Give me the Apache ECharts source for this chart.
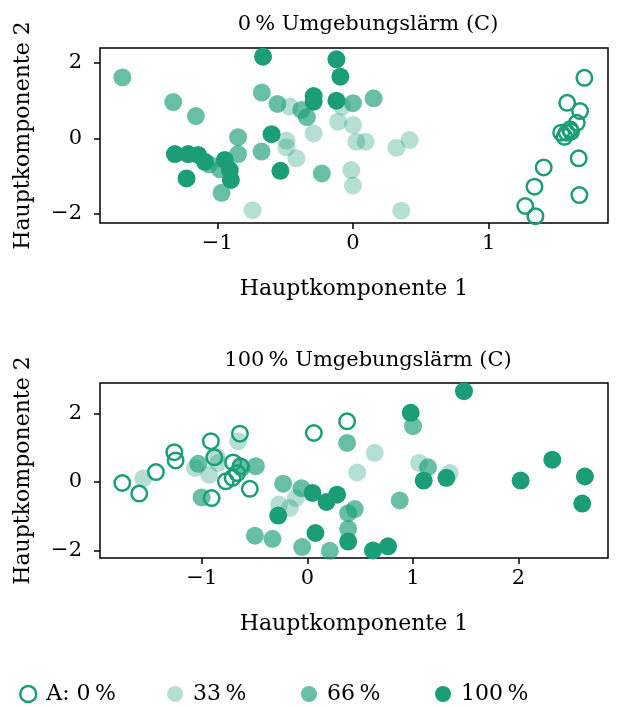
<!DOCTYPE html>
<html lang="de">
<head>
    <meta charset="UTF-8">
    <title>Hauptkomponenten</title>
    <script src="https://cdn.jsdelivr.net/npm/echarts@6/dist/echarts.min.js"></script>
    <style>
        html, body { margin: 0; padding: 0; background: #fff; }
        #main { width: 636px; height: 708px; }
    </style>
</head>
<body>
<div id="main"></div>
<script>
    // Namen der Gruppen
    var names = ['A: 0\u2009%', '33\u2009%', '66\u2009%', '100\u2009%'];
    var titles = ['0\u2009% Umgebungslärm (C)', '100\u2009% Umgebungslärm (C)'];
    var xTicks = [[-1, 0, 1], [-1, 0, 1, 2]];
    var yTicks = [-2, 0, 2];

    // 0 % Umgebungslärm
    var top0 = [[1.706,1.60],[1.579,0.94],[1.674,0.72],[1.65,0.41],[1.60,0.24],[1.576,0.15],[1.535,0.15],[1.559,0.04],[1.608,0.175],[1.664,-0.53],[1.406,-0.77],[1.338,-1.28],[1.669,-1.50],[1.27,-1.79],[1.345,-2.06]];
    var top33 = [[-0.741,-1.90],[-0.466,0.84],[-0.49,-0.06],[-0.49,-0.24],[-0.417,-0.53],[-0.29,0.13],[-0.11,0.44],[-0.08,0.84],[0.0,0.35],[0.025,-0.09],[0.093,-0.09],[-0.012,-0.84],[0.0,-1.25],[0.32,-0.25],[0.417,-0.045],[0.356,-1.915]];
    var top66 = [[-1.70,1.61],[-1.325,0.96],[-1.158,0.59],[-0.672,1.21],[-0.557,0.91],[-0.38,0.75],[-0.34,0.56],[0.0,0.93],[0.152,1.06],[-0.847,0.03],[-0.847,-0.415],[-0.674,-0.35],[-0.969,-1.44],[-0.23,-0.93],[-1.06,-0.69],[-0.98,-0.82]];
    var top100 = [[-0.663,2.16],[-0.122,2.09],[-0.093,1.63],[-0.29,1.12],[-0.29,0.97],[-0.122,0.995],[-0.60,0.11],[-0.535,-0.86],[-1.313,-0.415],[-1.215,-0.415],[-1.141,-0.44],[-1.092,-0.62],[-1.227,-1.06],[-0.945,-0.57],[-0.908,-0.84],[-0.9,-1.10]];

    // 100 % Umgebungslärm
    var bot0 = [[-1.754,-0.03],[-1.593,-0.34],[-1.435,0.29],[-1.261,0.87],[-1.248,0.63],[-0.914,1.19],[-0.882,0.72],[-0.639,1.41],[-0.703,0.57],[-0.633,0.46],[-0.665,0.26],[-0.708,0.12],[-0.772,0.02],[-0.545,-0.20],[-0.907,-0.47],[0.062,1.43],[0.377,1.77]];
    var bot33 = [[-1.555,0.10],[-0.655,1.19],[-0.86,0.74],[-1.065,0.41],[-0.93,0.21],[-0.845,0.555],[-0.109,-0.47],[-0.267,-0.66],[-0.166,-0.76],[0.472,0.28],[0.639,0.85],[1.059,0.555],[1.35,0.26]];
    var bot66 = [[-1.034,0.53],[-0.623,0.41],[-0.488,0.46],[-1.002,-0.45],[-0.229,-0.05],[-0.055,-0.18],[0.45,-0.79],[0.387,-0.91],[0.387,-1.37],[-0.497,-1.57],[-0.33,-1.66],[-0.049,-1.90],[0.213,-2.01],[0.377,1.14],[1.002,1.63],[1.144,0.43],[0.876,-0.54]];
    var bot100 = [[-0.276,-0.98],[0.049,-0.32],[0.182,-0.585],[0.282,-0.37],[0.077,-1.49],[0.387,-1.74],[0.623,-2.0],[0.765,-1.88],[1.485,2.65],[0.98,2.02],[1.103,0.04],[1.318,0.12],[2.022,0.04],[2.322,0.65],[2.631,0.16],[2.606,-0.63]];

    var font = 'DejaVu Serif';
    var green = '#1b9e77';
    var fills = ['rgba(0,0,0,0)', 'rgba(27,158,119,0.33)', 'rgba(27,158,119,0.66)', 'rgba(27,158,119,1)'];

    function minus(v) {
        return String(v).replace('-', '\u2212');
    }

    function xAxis(idx, min, max) {
        return {
            type: 'value', gridIndex: idx, min: min, max: max, position: 'bottom',
            splitLine: { show: false },
            axisLine: { show: false, onZero: false },
            axisTick: { show: true, length: 6, customValues: xTicks[idx], lineStyle: { color: '#000', width: 1.5 } },
            axisLabel: { customValues: xTicks[idx], formatter: minus, margin: 10, color: '#000', fontFamily: font, fontSize: 21 },
            name: 'Hauptkomponente 1', nameLocation: 'middle', nameGap: 55,
            nameTextStyle: { color: '#000', fontFamily: font, fontSize: 22 }
        };
    }

    function yAxis(idx, min, max) {
        return {
            type: 'value', gridIndex: idx, min: min, max: max, position: 'left',
            splitLine: { show: false },
            axisLine: { show: false, onZero: false },
            axisTick: { show: true, length: 6, customValues: yTicks, lineStyle: { color: '#000', width: 1.5 } },
            axisLabel: { customValues: yTicks, formatter: minus, margin: 18, color: '#000', fontFamily: font, fontSize: 21 },
            name: 'Hauptkomponente 2', nameLocation: 'middle', nameGap: 66,
            nameTextStyle: { color: '#000', fontFamily: font, fontSize: 22 }
        };
    }

    function scatter(i, data, idx) {
        var hollow = i === 0;
        return {
            name: names[i], type: 'scatter', xAxisIndex: idx, yAxisIndex: idx,
            data: data,
            symbol: 'circle',
            symbolSize: hollow ? 15.5 : 18,
            z: hollow ? 5 : 2 + i * 0.1,
            itemStyle: hollow
                ? { color: fills[0], borderColor: green, borderWidth: 2.5, opacity: 1 }
                : { color: fills[i], opacity: 1 },
            emphasis: { disabled: true },
            silent: true
        };
    }

    var legendLeft = [14, 162, 296, 430];
    var legends = [];
    for (var i = 0; i < 4; i++) {
        legends.push({
            data: [i === 0
                ? { name: names[0], itemStyle: { color: '#fff', borderColor: green, borderWidth: 2.5 } }
                : { name: names[i], itemStyle: { color: fills[i], borderWidth: 0 } }],
            left: legendLeft[i], top: 678,
            icon: 'circle', itemWidth: 16, itemHeight: 16,
            selectedMode: false,
            textStyle: { color: '#000', fontFamily: font, fontSize: 22, padding: [0, 0, 0, 5] }
        });
    }

    var chart = echarts.init(document.getElementById('main'));
    chart.setOption({
        animation: false,
        backgroundColor: '#fff',
        title: [
            { text: titles[0], left: 363, top: 9, textAlign: 'center', textStyle: { color: '#000', fontFamily: font, fontSize: 21, fontWeight: 'normal' } },
            { text: titles[1], left: 363, top: 345, textAlign: 'center', textStyle: { color: '#000', fontFamily: font, fontSize: 21, fontWeight: 'normal' } }
        ],
        legend: legends,
        grid: [
            { left: 100, top: 48, width: 508, height: 175, show: true, borderColor: '#000', borderWidth: 1.5, backgroundColor: 'transparent' },
            { left: 100, top: 383, width: 508, height: 175, show: true, borderColor: '#000', borderWidth: 1.5, backgroundColor: 'transparent' }
        ],
        xAxis: [xAxis(0, -1.865, 1.88), xAxis(1, -1.965, 2.85)],
        yAxis: [yAxis(0, -2.24, 2.39), yAxis(1, -2.22, 2.89)],
        series: [
            scatter(1, top33, 0), scatter(2, top66, 0), scatter(3, top100, 0), scatter(0, top0, 0),
            scatter(1, bot33, 1), scatter(2, bot66, 1), scatter(3, bot100, 1), scatter(0, bot0, 1)
        ]
    });
</script>
</body>
</html>
